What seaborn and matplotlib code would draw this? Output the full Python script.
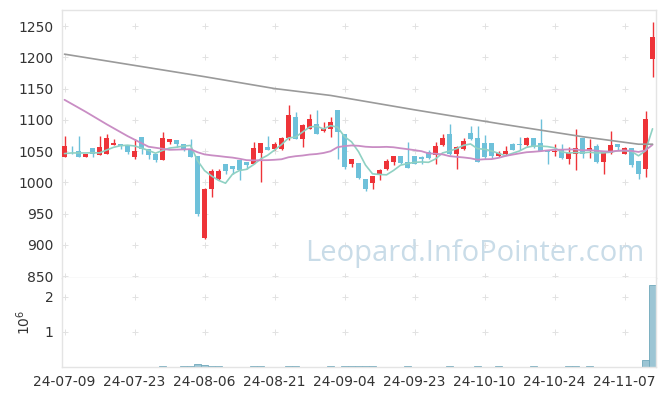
import numpy as np
import pandas as pd
import matplotlib
matplotlib.use("Agg")
import matplotlib.pyplot as plt
import seaborn as sns

# ----------------------------
# daily candles (index = trading day)
# ----------------------------
opens = [1041, 1049, 1050, 1041, 1055, 1044, 1046, 1060, 1062, 1060,
         1041, 1072, 1054, 1045, 1036, 1065, 1068, 1061, 1051, 1042,
         911, 989, 1005, 1029, 1026, 1036, 1032, 1029, 1047, 1056,
         1053, 1053, 1071, 1105, 1070, 1086, 1093, 1082, 1086, 1116,
         1077, 1030, 1031, 1006, 999, 1011, 1021, 1032, 1042, 1032,
         1042, 1040, 1049, 1043, 1060, 1078, 1046, 1053, 1079, 1071,
         1063, 1063, 1042, 1045, 1061, 1061, 1060, 1071, 1063, 1052,
         1049, 1052, 1037, 1046, 1071, 1050, 1058, 1033, 1047, 1061,
         1046, 1055, 1034, 1021, 1197]
highs = [1074, 1058, 1074, 1045, 1055, 1074, 1078, 1069, 1062, 1060,
         1069, 1072, 1054, 1045, 1080, 1069, 1068, 1062, 1069, 1042,
         991, 1021, 1021, 1029, 1026, 1036, 1032, 1064, 1063, 1074,
         1064, 1073, 1124, 1112, 1094, 1110, 1115, 1096, 1105, 1116,
         1078, 1038, 1031, 1006, 1010, 1022, 1038, 1042, 1042, 1065,
         1042, 1042, 1051, 1065, 1078, 1094, 1058, 1071, 1090, 1090,
         1076, 1063, 1050, 1058, 1063, 1073, 1073, 1071, 1101, 1052,
         1062, 1061, 1057, 1085, 1071, 1069, 1061, 1050, 1082, 1061,
         1057, 1055, 1034, 1114, 1256]
lows = [1041, 1046, 1041, 1041, 1041, 1044, 1046, 1060, 1053, 1045,
        1037, 1045, 1038, 1033, 1036, 1062, 1057, 1050, 1041, 946,
        909, 977, 1004, 1014, 1014, 1003, 1022, 1029, 1000, 1051,
        1052, 1052, 1068, 1070, 1056, 1085, 1077, 1080, 1072, 1037,
        1021, 1025, 1006, 986, 990, 1004, 1020, 1028, 1030, 1023,
        1029, 1030, 1038, 1029, 1058, 1044, 1021, 1052, 1067, 1033,
        1038, 1039, 1041, 1044, 1051, 1052, 1058, 1055, 1050, 1030,
        1042, 1038, 1030, 1020, 1039, 1039, 1031, 1013, 1046, 1052,
        1045, 1025, 1005, 1009, 1169]
closes = [1058, 1048, 1041, 1045, 1045, 1056, 1071, 1063, 1058, 1049,
          1050, 1054, 1044, 1036, 1071, 1069, 1061, 1053, 1041, 950,
          989, 1018, 1018, 1018, 1022, 1019, 1027, 1055, 1063, 1052,
          1061, 1071, 1108, 1070, 1092, 1101, 1078, 1086, 1096, 1080,
          1025, 1037, 1007, 989, 1010, 1020, 1034, 1042, 1031, 1023,
          1030, 1037, 1039, 1058, 1071, 1045, 1056, 1066, 1069, 1033,
          1041, 1042, 1047, 1050, 1052, 1060, 1071, 1057, 1050, 1048,
          1050, 1039, 1047, 1055, 1045, 1055, 1033, 1048, 1060, 1057,
          1055, 1027, 1013, 1101, 1232]
volumes = [3000, 3000, 3000, 3000, 3000, 3000, 3000, 3000, 3000, 3000,
           3000, 3000, 3000, 3000, 40000, 3000, 3000, 40000, 40000, 95000,
           67000, 40000, 40000, 3000, 3000, 3000, 3000, 40000, 40000, 3000,
           3000, 3000, 40000, 40000, 3000, 3000, 3000, 3000, 40000, 3000,
           40000, 40000, 40000, 40000, 40000, 3000, 3000, 3000, 3000, 40000,
           3000, 3000, 3000, 3000, 3000, 40000, 3000, 3000, 3000, 40000,
           3000, 3000, 40000, 3000, 3000, 3000, 3000, 40000, 3000, 3000,
           3000, 3000, 40000, 40000, 3000, 40000, 3000, 3000, 3000, 3000,
           3000, 3000, 3000, 210000, 2330000]

# moving averages where the chart needs days before the window
ma5_head = [1046, 1047, 1047, 1047]
ma20_head_idx = [0, 3, 6, 9, 12, 15, 18]
ma20_head = [1132, 1113, 1093, 1074, 1057, 1052, 1053]
ma120_idx = [0, 10, 20, 30, 38, 50, 62, 74, 82, 84]
ma120 = [1205, 1187, 1169, 1150, 1139, 1116, 1094, 1073, 1061, 1061]

tick_pos = [0, 10, 20, 30, 40, 50, 60, 70, 80]
tick_labels = ['24-07-09', '24-07-23', '24-08-06', '24-08-21', '24-09-04',
               '24-09-23', '24-10-10', '24-10-24', '24-11-07']
price_ticks = [850, 900, 950, 1000, 1050, 1100, 1150, 1200, 1250]

# ----------------------------
# frame
# ----------------------------
df = pd.DataFrame({"open": opens, "high": highs, "low": lows,
                   "close": closes, "volume": volumes})
df["idx"] = np.arange(len(df))
df["ma5"] = df["close"].rolling(5).mean()
df.loc[:3, "ma5"] = ma5_head
ma20 = df["close"].rolling(20).mean()
ma20_x = ma20_head_idx + list(df["idx"][19:])
ma20_y = ma20_head + list(ma20[19:])

sns.set_theme(style="white")
plt.rcParams['font.family'] = ['Liberation Sans Narrow', 'DejaVu Sans']

UP = "#ee3338"
DOWN = "#6ec1da"
EDGE = "#e4e4e4"

fig = plt.figure(figsize=(6.65, 3.96), dpi=100)
ax = fig.add_axes([0.0928, 0.298, 0.8937, 0.6767])
axv = fig.add_axes([0.0928, 0.0732, 0.8937, 0.2248], sharex=ax)

up = df["close"] >= df["open"]
colors = np.where(up, UP, DOWN)

# grid as small plus marks
gx, gy = np.meshgrid(tick_pos, price_ticks)
ax.plot(gx.ravel(), gy.ravel(), ls="none", marker="+", ms=4, mew=0.7,
        color="#e2e2e2", zorder=0)
gx2, gy2 = np.meshgrid(tick_pos, [1e6, 2e6])
axv.plot(gx2.ravel(), gy2.ravel(), ls="none", marker="+", ms=4, mew=0.7,
         color="#e2e2e2", zorder=0)

# candles
ax.vlines(df["idx"], df["low"], df["high"], colors=colors, lw=1.0, zorder=2)
body = np.maximum((df["close"] - df["open"]).abs(), 0.8)
ax.bar(df["idx"], body, bottom=np.minimum(df["open"], df["close"]),
       width=0.72, color=colors, linewidth=0, zorder=3)

# moving averages
sns.lineplot(x=df["idx"], y=df["ma5"], ax=ax, color="#8fd1c3", lw=1.2, zorder=4)
sns.lineplot(x=ma20_x, y=ma20_y, ax=ax, color="#c98dc4", lw=1.3, zorder=4)
sns.lineplot(x=ma120_idx, y=ma120, ax=ax, color="#9a9a9a", lw=1.2, zorder=4)

ax.text(0.695, 0.093, "Leopard.InfoPointer.com", transform=ax.transAxes,
        ha="center", va="center", fontsize=21, color="#c9dce8",
        family=["Open Sans", "DejaVu Sans"], zorder=1)

ax.set_xlim(-0.4, 84.5)
ax.set_ylim(847, 1275.6)
ax.set_yticks(price_ticks)
ax.set_xlabel("")
ax.set_ylabel("")
ax.tick_params(axis="x", labelbottom=False, length=0)
ax.tick_params(axis="y", length=0, labelsize=10, labelcolor="#333333", pad=6)

# volume
axv.bar(df["idx"], df["volume"], width=0.95, color="#9cc5d4",
        edgecolor="#6fa8bb", linewidth=0.6, zorder=2)
axv.set_ylim(0, 2.54e6)
axv.set_yticks([1e6, 2e6])
axv.set_yticklabels(["1", "2"])
axv.set_ylabel("$10^6$", fontsize=10, color="#333333", labelpad=8)
axv.set_xticks(tick_pos)
axv.set_xticklabels(tick_labels)
axv.tick_params(axis="both", length=0, labelsize=10, labelcolor="#333333", pad=6)

for a in (ax, axv):
    for s in a.spines.values():
        s.set_color(EDGE)
        s.set_linewidth(1.0)
axv.spines["top"].set_visible(False)

fig.savefig("out.png", dpi=100)
